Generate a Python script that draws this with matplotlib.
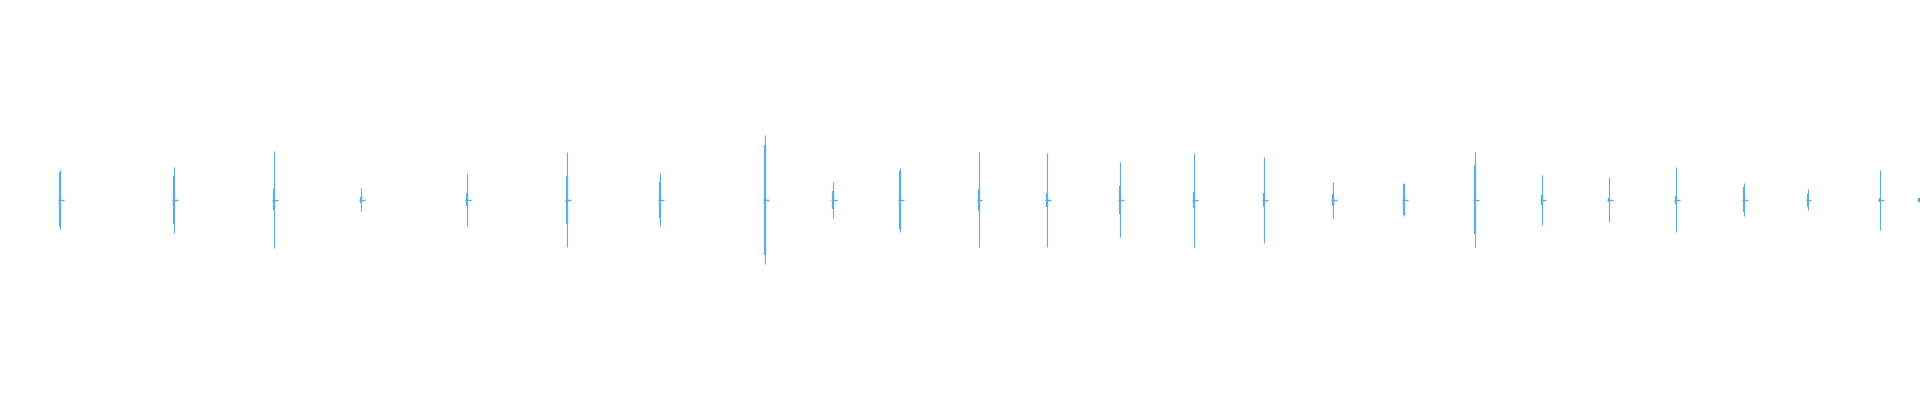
import matplotlib
matplotlib.use("Agg")
import matplotlib.pyplot as plt
import numpy as np

# event times (seconds) and amplitudes (normalised, -1..1)
times = [0.60, 1.74, 2.74, 3.61, 4.67, 5.67, 6.60, 7.65, 8.33, 9.00,
         9.79, 10.47, 11.20, 11.94, 12.64, 13.33, 14.04, 14.75, 15.42,
         16.09, 16.76, 17.44, 18.08, 18.80, 19.19]
peak_max = [0.150, 0.165, 0.245, 0.060, 0.130, 0.240, 0.135, 0.325, 0.090, 0.160,
            0.240, 0.235, 0.190, 0.235, 0.215, 0.090, 0.085, 0.240, 0.125,
            0.115, 0.165, 0.085, 0.055, 0.150, 0.010]
peak_min = [-0.145, -0.163, -0.238, -0.053, -0.128, -0.233, -0.128, -0.318, -0.088, -0.158,
            -0.233, -0.233, -0.183, -0.233, -0.213, -0.088, -0.078, -0.233, -0.123,
            -0.108, -0.158, -0.078, -0.048, -0.148, -0.010]
body_max = [0.140, 0.120, 0.055, 0.015, 0.035, 0.120, 0.090, 0.275, 0.045, 0.145,
            0.055, 0.035, 0.070, 0.040, 0.035, 0.030, 0.080, 0.175, 0.025,
            0.010, 0.020, 0.065, 0.032, 0.010, 0.010]
body_min = [-0.135, -0.120, -0.050, -0.015, -0.030, -0.120, -0.090, -0.273, -0.045, -0.143,
            -0.055, -0.035, -0.070, -0.040, -0.035, -0.030, -0.075, -0.168, -0.025,
            -0.010, -0.020, -0.060, -0.035, -0.010, -0.010]

color = "#5DADE2"

fig = plt.figure(figsize=(19.2, 4), dpi=100)
ax = fig.add_axes([0, 0, 1, 1])
ax.set_xlim(0, 19.2)
ax.set_ylim(-1, 1)
ax.axis("off")

t = np.array(times)
ax.vlines(t, peak_min, peak_max, color=color, linewidth=0.8)
ax.vlines(t, body_min, body_max, color=color, linewidth=1.6)
ax.hlines(np.zeros_like(t), t - 0.02, t + 0.035, color=color, linewidth=1.0)

fig.savefig("out.png", dpi=100, facecolor="white")
